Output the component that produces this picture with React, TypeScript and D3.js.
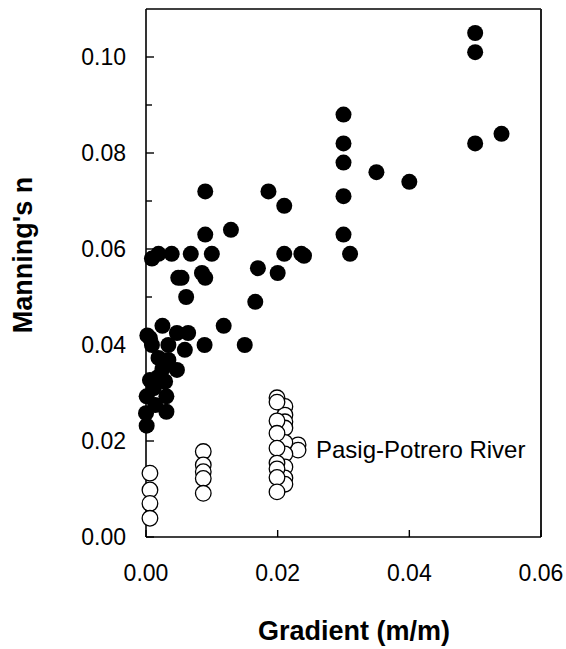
import React from "react";
import * as d3 from "d3";

const filledGradient = [
  0.05, 0.05, 0.05, 0.054, 0.03, 0.03, 0.03, 0.03, 0.03, 0.031, 0.035, 0.04,
  0.0186, 0.021, 0.021, 0.0236, 0.024, 0.017, 0.02, 0.0166, 0.015, 0.0118, 0.0129,
  0.009, 0.009, 0.0009, 0.0019, 0.0039, 0.0068, 0.01, 0.0049, 0.0054, 0.0085, 0.009,
  0.0061, 0.0089, 0.0025, 0.0006, 0.0002, 0.0047, 0.0064, 0.0034, 0.0059, 0.0009,
  0.0019, 0.0034, 0.0047, 0.0006, 0.0029, 0.0018, 0.0001, 0.0031, 0.0031, 0.0,
  0.0001, 0.0014, 0.0012, 0.0025,
];
const filledN = [
  0.105, 0.101, 0.082, 0.084, 0.088, 0.082, 0.078, 0.071, 0.063, 0.059, 0.076, 0.074,
  0.072, 0.069, 0.059, 0.059, 0.0586, 0.056, 0.055, 0.049, 0.04, 0.044, 0.064,
  0.072, 0.063, 0.058, 0.059, 0.059, 0.059, 0.059, 0.054, 0.054, 0.055, 0.054,
  0.05, 0.04, 0.044, 0.0414, 0.042, 0.0425, 0.0425, 0.04, 0.039, 0.04,
  0.0373, 0.0369, 0.0348, 0.0327, 0.0324, 0.0333, 0.0293, 0.0293, 0.0261, 0.0258,
  0.0232, 0.0275, 0.031, 0.035,
];

const openGradient = [
  0.0231, 0.0231,
  0.0211, 0.0211, 0.0211, 0.0211, 0.0211, 0.0211, 0.0211, 0.0211, 0.0211,
  0.0199, 0.0199, 0.0199, 0.0199, 0.0199, 0.0199, 0.0199, 0.0199, 0.0199,
  0.0087, 0.0087, 0.0087, 0.0087, 0.0087,
  0.0006, 0.0006, 0.0006, 0.0006,
];
const openN = [
  0.0192, 0.0181,
  0.0272, 0.0254, 0.024, 0.0227, 0.0197, 0.0173, 0.0146, 0.0123, 0.011,
  0.029, 0.0281, 0.0242, 0.0216, 0.0185, 0.0154, 0.0142, 0.0124, 0.0094,
  0.0178, 0.015, 0.0136, 0.0122, 0.0091,
  0.0133, 0.0098, 0.007, 0.0039,
];

const xTicks = [0, 0.02, 0.04, 0.06];
const yTicks = [0, 0.02, 0.04, 0.06, 0.08, 0.1];
const yMinorTicks = [0.01, 0.03, 0.05, 0.07, 0.09];

const annotation = "Pasig-Potrero River";
const xTitle = "Gradient (m/m)";
const yTitle = "Manning's n";

export default function App() {
  const W = 566;
  const H = 649;
  const left = 146;
  const right = 541;
  const top = 9;
  const bottom = 537;
  const x = d3.scaleLinear().domain([0, 0.06]).range([left, right]);
  const y = d3.scaleLinear().domain([0, 0.11]).range([bottom, top]);
  const font = "'Liberation Sans', Arial, sans-serif";
  const fmt = d3.format(".2f");

  return (
    <svg
      width={W}
      height={H}
      style={{ position: "absolute", left: 0, top: 0, background: "#fff" }}
    >
      <rect x={0} y={0} width={W} height={H} fill="#fff" />
      {/* frame */}
      <line x1={left} y1={top} x2={right} y2={top} stroke="#000" strokeWidth={1.6} />
      <line x1={right} y1={top} x2={right} y2={bottom} stroke="#222" strokeWidth={2} />
      <line x1={left} y1={top} x2={left} y2={bottom} stroke="#000" strokeWidth={1.6} />
      <line x1={left} y1={bottom} x2={right} y2={bottom} stroke="#000" strokeWidth={1.6} />

      {/* y ticks */}
      {yTicks.map((t) => (
        <g key={"y" + t}>
          <line x1={left} x2={left + 8} y1={y(t)} y2={y(t)} stroke="#000" strokeWidth={1.4} />
          <text
            x={left - 20}
            y={y(t)}
            dy="0.36em"
            textAnchor="end"
            fontFamily={font}
            fontSize={23}
            fill="#000"
          >
            {fmt(t)}
          </text>
        </g>
      ))}
      {yMinorTicks.map((t) => (
        <line key={"ym" + t} x1={left} x2={left + 6} y1={y(t)} y2={y(t)} stroke="#000" strokeWidth={1.4} />
      ))}

      {/* x ticks */}
      {xTicks.map((t) => (
        <g key={"x" + t}>
          <line x1={x(t)} x2={x(t)} y1={bottom} y2={bottom - 7} stroke="#000" strokeWidth={1.4} />
          <text
            x={x(t)}
            y={581}
            textAnchor="middle"
            fontFamily={font}
            fontSize={23}
            fill="#000"
          >
            {fmt(t)}
          </text>
        </g>
      ))}

      {/* open circles */}
      {openGradient.map((g, i) => (
        <circle
          key={"o" + i}
          cx={x(g)}
          cy={y(openN[i])}
          r={7.8}
          fill="#fff"
          stroke="#000"
          strokeWidth={1.3}
        />
      ))}

      {/* filled circles */}
      {filledGradient.map((g, i) => (
        <circle key={"f" + i} cx={x(g)} cy={y(filledN[i])} r={8} fill="#000" />
      ))}

      <text x={316} y={458} fontFamily={font} fontSize={24} fill="#000">
        {annotation}
      </text>

      <text
        x={354}
        y={640}
        textAnchor="middle"
        fontFamily={font}
        fontSize={27}
        fontWeight="bold"
        fill="#000"
      >
        {xTitle}
      </text>
      <text
        transform={`translate(32,255) rotate(-90)`}
        textAnchor="middle"
        fontFamily={font}
        fontSize={27}
        fontWeight="bold"
        fill="#000"
      >
        {yTitle}
      </text>
    </svg>
  );
}
